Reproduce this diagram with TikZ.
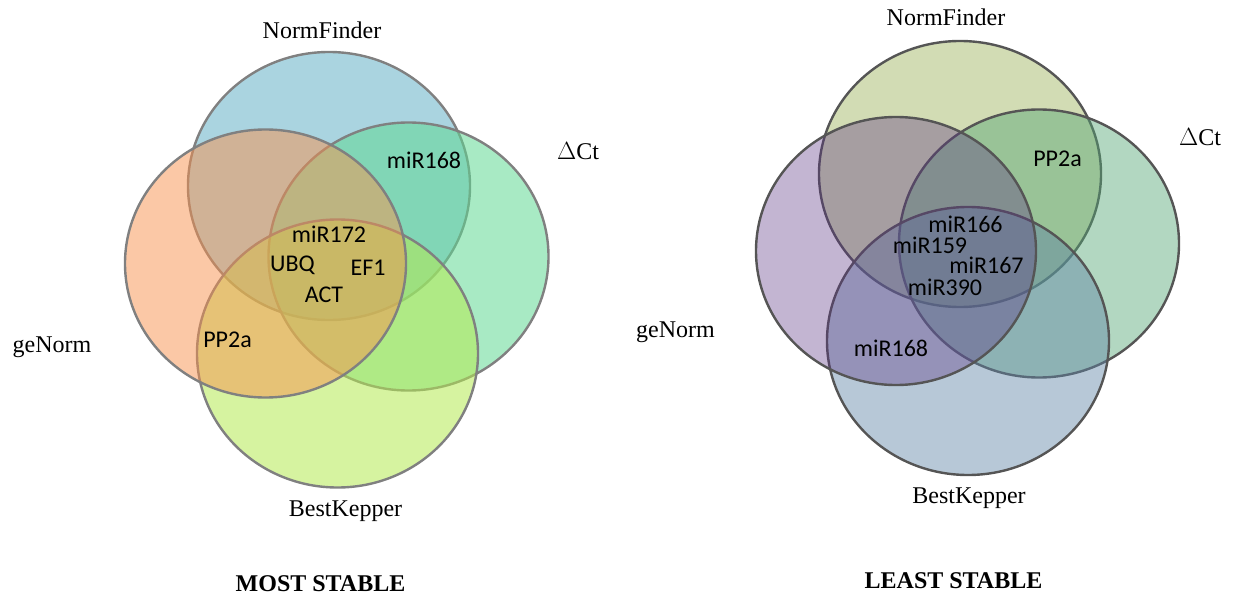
\documentclass[tikz,border=0pt]{standalone}
\usepackage{fontspec}
\setmainfont{Liberation Serif}
\newfontfamily\calib{Carlito}
\definecolor{lnf}{RGB}{100,177,199}
\definecolor{ldc}{RGB}{97,217,148}
\definecolor{lbk}{RGB}{180,233,82}
\definecolor{lgn}{RGB}{248,145,78}
\definecolor{rnf}{RGB}{155,177,88}
\definecolor{rdc}{RGB}{84,166,117}
\definecolor{rbk}{RGB}{95,133,166}
\definecolor{rgn}{RGB}{90,50,130}
\definecolor{lline}{RGB}{128,128,128}
\definecolor{rline}{RGB}{85,85,85}
\tikzset{
  lven/.style={draw=lline, line width=2.4pt, fill opacity=0.55},
  rven/.style={draw=rline, line width=2.4pt, fill opacity=0.45},
  lbl/.style={font=\fontsize{24}{28}\selectfont, inner sep=0pt, anchor=base},
  ttl/.style={font=\bfseries\fontsize{24}{28}\selectfont, inner sep=0pt, anchor=base},
  gene/.style={font=\calib\fontsize{24}{28}\selectfont, inner sep=0pt, anchor=base}
}
\begin{document}
\begin{tikzpicture}[x=1pt,y=-1pt]
\useasboundingbox (0,0) rectangle (1239,596);
% left diagram
\draw[lven, fill=lnf] (329,186) ellipse [x radius=141pt, y radius=134pt];
\draw[lven, fill=ldc] (408.5,256.5) ellipse [x radius=140pt, y radius=134pt];
\draw[lven, fill=lbk] (337.5,353.5) ellipse [x radius=140.5pt, y radius=134pt];
\draw[lven, fill=lgn, fill opacity=0.5] (265.5,263.5) ellipse [x radius=140.5pt, y radius=134pt];
% right diagram
\draw[rven, fill=rnf] (960,174) ellipse [x radius=141pt, y radius=133pt];
\draw[rven, fill=rdc] (1039,243.5) ellipse [x radius=140pt, y radius=134pt];
\draw[rven, fill=rbk] (968,341) ellipse [x radius=141pt, y radius=134pt];
\draw[rven, fill=rgn, fill opacity=0.36] (896,251) ellipse [x radius=140pt, y radius=134pt];
% left labels
\node[lbl] (lNF) at (322,39) {NormFinder};
\node[lbl] (lDC) at (578,160) {$\Delta$Ct};
\node[lbl] (lGN) at (52,352) {geNorm};
\node[lbl] (lBK) at (345.5,516) {BestKepper};
\node[ttl] (lT) at (320.5,591) {MOST STABLE};
\node[gene] (l168) at (424,169) {miR168};
\node[gene] (l172) at (329,242) {miR172};
\node[gene] (lUBQ) at (292.5,271) {UBQ};
\node[gene] (lEF) at (368,275) {EF1};
\node[gene] (lACT) at (324,302) {ACT};
\node[gene] (lPP) at (227.5,347) {PP2a};
% right labels
\node[lbl] (rNF) at (946,26) {NormFinder};
\node[lbl] (rDC) at (1200,146) {$\Delta$Ct};
\node[lbl] (rGN) at (675.5,337) {geNorm};
\node[lbl] (rBK) at (969,503) {BestKepper};
\node[ttl] (rT) at (953.5,588) {LEAST STABLE};
\node[gene] (rPP) at (1057.5,167) {PP2a};
\node[gene] (r166) at (965.5,233) {miR166};
\node[gene] (r159) at (930,253) {miR159};
\node[gene] (r167) at (986.5,273) {miR167};
\node[gene] (r390) at (945,295) {miR390};
\node[gene] (r168) at (891,356) {miR168};
\end{tikzpicture}
\end{document}
